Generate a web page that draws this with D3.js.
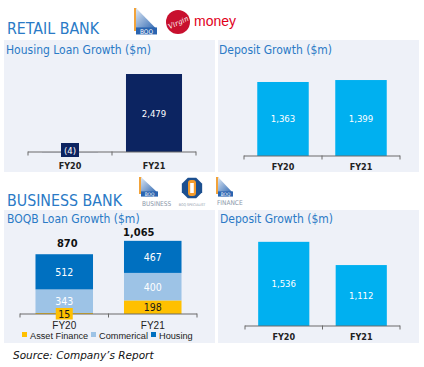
<!DOCTYPE html>
<html><head><meta charset="utf-8">
<script src="https://cdn.jsdelivr.net/npm/d3@7"></script>
<style>
html,body{margin:0;padding:0;background:#fff;}
svg{display:block;}
</style></head>
<body>
<svg id="c" width="424" height="367"></svg>
<script>
// ---- data ----
const years = ["FY20", "FY21"];
const retailHousingLoan = [-4, 2479];
const retailHousingLabels = ["(4)", "2,479"];
const retailDeposit = [1363, 1399];
const retailDepositLabels = ["1,363", "1,399"];
const businessSeries = ["Asset Finance", "Commerical", "Housing"];
const businessAsset = [15, 198];
const businessCommercial = [343, 400];
const businessHousing = [512, 467];
const businessTotals = [870, 1065];
const businessTotalLabels = ["870", "1,065"];
const businessDeposit = [1536, 1112];
const businessDepositLabels = ["1,536", "1,112"];

const FONT = "'DejaVu Sans Condensed','Liberation Sans',sans-serif";
const FONT2 = "'DejaVu Sans Condensed','Liberation Sans',sans-serif";
const FONT3 = "'Liberation Sans',Arial,sans-serif";
const BLUE_T = "#2a7ac6";
const PANEL = "#eef1f8";

const svg = d3.select("#c");
svg.append("rect").attr("width",424).attr("height",367).attr("fill","#fff");

// panels
[[4,40,211,132],[218,40,201,132],[4,210,211,133],[218,210,201,133]].forEach(p=>{
  svg.append("rect").attr("x",p[0]).attr("y",p[1]).attr("width",p[2]).attr("height",p[3]).attr("fill",PANEL);
});

// headings
svg.append("text").attr("x",7).attr("y",34).text("RETAIL BANK")
  .attr("font-family",FONT).attr("font-size",15.8).attr("fill",BLUE_T);
svg.append("text").attr("x",7).attr("y",206).text("BUSINESS BANK")
  .attr("font-family",FONT).attr("font-size",15.8).attr("fill",BLUE_T);

function title(x,y,t){
  svg.append("text").attr("x",x).attr("y",y).text(t)
    .attr("font-family",FONT).attr("font-size",12).attr("fill",BLUE_T);
}
title(6,54,"Housing Loan Growth ($m)");
title(219,54,"Deposit Growth ($m)");
title(7,223,"BOQB Loan Growth ($m)");
title(220,223,"Deposit Growth ($m)");

// axis helper: line at baseline with ticks at band boundaries
function drawAxis(x, y0){
  const g = svg.append("g");
  const r = x.range();
  g.append("line").attr("x1",r[0]).attr("x2",r[1]).attr("y1",y0).attr("y2",y0)
    .attr("stroke","#6b6b6b").attr("stroke-width",1.2);
  const bounds = x.domain().map(d=>x(d)).concat([r[1]]);
  bounds.forEach(b=>{
    g.append("line").attr("x1",b).attr("x2",b).attr("y1",y0-0.5).attr("y2",y0+3.5)
      .attr("stroke","#6b6b6b").attr("stroke-width",1);
  });
  return g;
}
function catLabels(x, y, bold, size, fam){
  x.domain().forEach(d=>{
    svg.append("text").attr("x",x(d)+x.bandwidth()/2).attr("y",y).text(d)
      .attr("text-anchor","middle").attr("font-family",fam||FONT2)
      .attr("font-weight",bold?"bold":"normal").attr("font-size",size).attr("fill","#222");
  });
}

// ---- Retail housing loan ----
{
  const x = d3.scaleBand().domain(years).range([28,196]).padding(0);
  const y = d3.scaleLinear().domain([0,3000]).range([152,152-3000*0.03146]);
  const bw = x.bandwidth()*0.667;
  years.forEach((d,i)=>{
    const v = retailHousingLoan[i];
    svg.append("rect").attr("x",x(d)+(x.bandwidth()-bw)/2).attr("width",bw)
      .attr("y",y(Math.max(0,v))).attr("height",Math.abs(y(v)-y(0)))
      .attr("fill","#0c2461");
  });
  drawAxis(x,152);
  const cx0 = x(years[0])+x.bandwidth()/2;
  svg.append("rect").attr("x",cx0-9).attr("y",y(0)-9).attr("width",18).attr("height",14).attr("fill","#0c2461");
  svg.append("text").attr("x",cx0).attr("y",y(0)+2).text(retailHousingLabels[0])
    .attr("text-anchor","middle").attr("font-family",FONT2).attr("font-size",9.5).attr("fill","#fff");
  const cx1 = x(years[1])+x.bandwidth()/2;
  svg.append("text").attr("x",cx1).attr("y",(y(retailHousingLoan[1])+y(0))/2+3.5).text(retailHousingLabels[1])
    .attr("text-anchor","middle").attr("font-family",FONT2).attr("font-size",9.5).attr("fill","#fff");
  catLabels(x,169,true,9);
}

// ---- deposit helper ----
function depositChart(vals, labels, r, base, k){
  const x = d3.scaleBand().domain(years).range(r).padding(0);
  const y = d3.scaleLinear().domain([0,2000]).range([base, base-2000*k]);
  const bw = x.bandwidth()*0.66;
  years.forEach((d,i)=>{
    const v = vals[i];
    svg.append("rect").attr("x",x(d)+(x.bandwidth()-bw)/2).attr("width",bw)
      .attr("y",y(v)).attr("height",y(0)-y(v)).attr("fill","#00b0f0");
    svg.append("text").attr("x",x(d)+x.bandwidth()/2).attr("y",(y(v)+y(0))/2+3.5).text(labels[i])
      .attr("text-anchor","middle").attr("font-family",FONT2).attr("font-size",9.5).attr("fill","#fff");
  });
  drawAxis(x,base);
  catLabels(x,base+14,true,9);
}
depositChart(retailDeposit, retailDepositLabels, [244,400], 156, 0.0543);
depositChart(businessDeposit, businessDepositLabels, [245,400], 326, 0.0548);

// ---- Business stacked ----
{
  const x = d3.scaleBand().domain(years).range([20,197]).padding(0);
  const y = d3.scaleLinear().domain([0,1200]).range([314,314-1200*0.0687]);
  const bw = x.bandwidth()*0.65;
  const rows = years.map((d,i)=>({year:d, "Asset Finance":businessAsset[i], "Commerical":businessCommercial[i], "Housing":businessHousing[i]}));
  const stack = d3.stack().keys(businessSeries)(rows);
  const color = d3.scaleOrdinal().domain(businessSeries).range(["#ffc000","#9dc3e6","#0070c0"]);
  stack.forEach(layer=>{
    layer.forEach((s,i)=>{
      const d = years[i];
      svg.append("rect").attr("x",x(d)+(x.bandwidth()-bw)/2).attr("width",bw)
        .attr("y",y(s[1])).attr("height",y(s[0])-y(s[1])).attr("fill",color(layer.key));
    });
  });
  drawAxis(x,314);
  stack.forEach(layer=>{
    layer.forEach((s,i)=>{
      const d = years[i];
      const cx = x(d)+x.bandwidth()/2;
      const v = s[1]-s[0];
      let cy = (y(s[0])+y(s[1]))/2;
      const isAsset = layer.key==="Asset Finance";
      if(isAsset && y(s[0])-y(s[1]) < 10){
        svg.append("rect").attr("x",cx-8.5).attr("y",y(0)-6).attr("width",17).attr("height",11.5).attr("fill","#ffc000");
        cy = y(0);
      }
      svg.append("text").attr("x",cx).attr("y",cy+4).text(v)
        .attr("text-anchor","middle").attr("font-family",FONT2).attr("font-size",10.5)
        .attr("fill", isAsset ? "#1a1a1a" : "#fff");
    });
  });
  years.forEach((d,i)=>{
    svg.append("text").attr("x",x(d)+x.bandwidth()/2 + (i===0?3:-14)).attr("y",y(businessTotals[i])-(i===0?7:5)).text(businessTotalLabels[i])
      .attr("text-anchor","middle").attr("font-family",FONT2).attr("font-weight","bold")
      .attr("font-size",11).attr("fill","#111");
  });
  catLabels(x,329,false,10,FONT3);
  const lx = [22,91,151];
  businessSeries.forEach((s,i)=>{
    svg.append("rect").attr("x",lx[i]).attr("y",332).attr("width",5).attr("height",5).attr("fill",color(s));
    svg.append("text").attr("x",lx[i]+8).attr("y",338.5).text(s)
      .attr("font-family",FONT3).attr("font-size",9.2).attr("fill","#222");
  });
}

// source
svg.append("text").attr("x",13).attr("y",359).text("Source: Company’s Report")
  .attr("font-family","'DejaVu Sans','Liberation Sans',sans-serif").attr("font-style","italic")
  .attr("font-size",10.5).attr("fill","#111");

// ---- logos (approximate) ----
const defs = svg.append("defs");
const lg = defs.append("linearGradient").attr("id","boqg").attr("x1","0").attr("y1","0").attr("x2","1").attr("y2","1");
lg.append("stop").attr("offset","0").attr("stop-color","#dfe9f5");
lg.append("stop").attr("offset","1").attr("stop-color","#2a64b0");
function boqLogo(x0,y0,w,h){
  svg.append("rect").attr("x",x0).attr("y",y0).attr("width",2.5).attr("height",h*0.85).attr("fill","#f2a33a");
  svg.append("polygon").attr("points",`${x0+2},${y0} ${x0+w},${y0+h*0.8} ${x0+2},${y0+h*0.8}`).attr("fill","url(#boqg)");
  svg.append("rect").attr("x",x0+2).attr("y",y0+h*0.72).attr("width",w-2).attr("height",h*0.26).attr("fill","#2a64b0");
  svg.append("text").attr("x",x0+2+(w-2)/2).attr("y",y0+h*0.95).text("BOQ")
    .attr("text-anchor","middle").attr("font-family",FONT2).attr("font-size",h*0.24).attr("fill","#fff");
}
boqLogo(134,8,23,27);
svg.append("circle").attr("cx",178).attr("cy",22).attr("r",12).attr("fill","#c8102e");
svg.append("text").attr("x",178).attr("y",25).text("Virgin").attr("text-anchor","middle")
  .attr("font-family","'DejaVu Serif',serif").attr("font-style","italic").attr("font-size",7).attr("fill","#fff")
  .attr("transform","rotate(-25,178,22)");
svg.append("text").attr("x",194).attr("y",26).text("money")
  .attr("font-family","'Liberation Sans',sans-serif").attr("font-size",14).attr("fill","#e1001a");

boqLogo(139,177,19,20);
svg.append("text").attr("x",142).attr("y",206).text("BUSINESS")
  .attr("font-family",FONT).attr("font-size",6.5).attr("fill","#8a97a8");
{
  const cx=192, cy=188, r=11;
  const pts = d3.range(8).map(i=>{const a=Math.PI/8+i*Math.PI/4; return [cx+r*Math.cos(a), cy+r*Math.sin(a)];});
  svg.append("polygon").attr("points",pts.map(p=>p.join(",")).join(" ")).attr("fill","#1c4f8f");
  svg.append("rect").attr("x",cx-4).attr("y",cy-8).attr("width",8).attr("height",16).attr("rx",3).attr("fill","#f39a2b");
  svg.append("rect").attr("x",cx-1.8).attr("y",cy-5).attr("width",3.6).attr("height",10).attr("fill","#fff");
  svg.append("text").attr("x",cx).attr("y",206).text("BOQ SPECIALIST").attr("text-anchor","middle")
    .attr("font-family",FONT2).attr("font-size",3.6).attr("fill","#8a97a8");
}
boqLogo(216,177,17,20);
svg.append("text").attr("x",217).attr("y",205).text("FINANCE")
  .attr("font-family",FONT).attr("font-size",6.5).attr("fill","#8a97a8");
</script>
</body></html>
